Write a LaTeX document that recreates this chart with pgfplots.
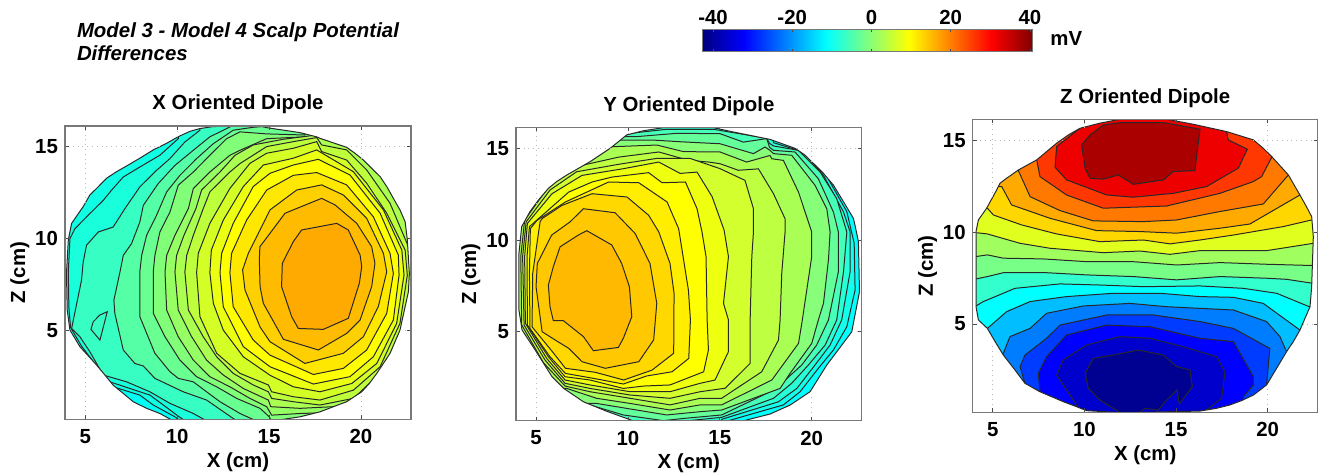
\documentclass[border=0pt]{standalone}
\usepackage{pgfplots}
\usepackage{pgfplotstable}
\usepackage{fontspec}
\setmainfont{Liberation Sans}
\pgfplotsset{compat=1.18}
\definecolor{cline}{RGB}{40,40,40}
\definecolor{frame}{RGB}{120,120,120}
\newcommand{\lab}{\bfseries\fontsize{10.2}{11}\selectfont}
\newcommand{\band}[4]{\addplot[fill={rgb,255:red,#1;green,#2;blue,#3},draw=cline,line width=0.5pt] coordinates {#4} --cycle;}
\pgfplotsset{head/.style={
  scale only axis, anchor=south west, axis on top,
  xtick={5,10,15,20}, ytick={5,10,15},
  /pgf/number format/assume math mode=true,
  tick label style={font=\lab},
  title style={font=\lab, at={(axis description cs:0.5,1.0137)}, anchor=base},
  xlabel={X (cm)}, ylabel={Z (cm)},
  xlabel style={font=\lab, at={(axis description cs:0.5,-0.163)}, anchor=base},
  ylabel style={font=\lab, at={(axis description cs:-0.1156,0.5)}, anchor=base},
  xticklabel style={yshift=-1.5pt},
  axis line style={draw=frame, line width=0.75pt},
  major tick length=2pt, tick style={draw=black!70, line width=0.35pt},
  unbounded coords=jump,
}}
\pgfplotsset{stub/.style={draw=gray!55, dotted, line width=0.4pt}}
\pgfplotstableread[row sep=crcr]{x y\\
2 8.11\\ 2 -3\\ 27 -3\\ 27 20\\ 2 20\\ 2 8.11\\
3.98 8.11\\ 4.08 9.93\\ 4.26 10.83\\ 4.89 11.74\\ 5.25 12.37\\ 5.62 12.73\\ 6.16 13.28\\ 6.71 13.64\\ 7.34 14.0\\ 7.97 14.37\\ 8.7 14.82\\ 9.43 15.18\\ 10.06 15.54\\ 10.7 15.83\\ 11.24 15.98\\ 11.97 16.09\\ 14.5 16.12\\ 14.87 16.03\\ 16.68 15.76\\ 17.59 15.53\\ 17.77 15.45\\ 19.22 14.96\\ 19.67 14.64\\ 20.13 14.27\\ 20.58 13.82\\ 21.04 13.37\\ 21.4 12.83\\ 21.76 12.19\\ 22.12 11.56\\ 22.4 10.92\\ 22.52 9.93\\ 22.63 8.11\\ 22.58 7.12\\ 22.12 5.03\\ 21.85 4.4\\ 21.58 3.77\\ 21.22 3.22\\ 20.86 2.68\\ 20.46 2.14\\ 20.04 1.68\\ 19.22 1.14\\ 18.5 0.87\\ 17.77 0.59\\ 16.68 0.32\\ 15.23 0.1\\ 9.79 0.1\\ 9.06 0.5\\ 8.34 0.78\\ 7.61 1.14\\ 7.07 1.59\\ 6.52 2.04\\ 6.07 2.59\\ 5.62 3.13\\ 5.16 3.64\\ 4.71 4.13\\ 4.44 4.58\\ 4.17 5.03\\ 4.02 6.12\\ 3.98 8.11\\
}\outlineA
\pgfplotstableread[row sep=crcr]{x y\\
2 7.73\\ 2 -3\\ 27 -3\\ 27 20\\ 2 20\\ 2 7.73\\
4.07 7.73\\ 4.07 9.28\\ 4.22 10.74\\ 4.67 11.56\\ 5.13 12.19\\ 5.67 12.83\\ 6.12 13.2\\ 6.67 13.56\\ 7.3 13.92\\ 7.94 14.29\\ 8.48 14.65\\ 9.03 15.02\\ 9.48 15.38\\ 9.93 15.75\\ 10.84 15.98\\ 11.93 16.15\\ 14.65 16.15\\ 15.74 15.91\\ 17.73 15.51\\ 19.09 15.02\\ 19.64 14.65\\ 20.09 14.2\\ 20.64 13.65\\ 21.18 13.01\\ 21.73 12.1\\ 22.27 11.19\\ 22.41 10.56\\ 22.54 9.92\\ 22.6 7.19\\ 22.18 5.0\\ 21.45 4.02\\ 20.82 3.18\\ 19.91 1.72\\ 18.82 0.99\\ 17.73 0.5\\ 16.28 0.13\\ 15.38 0.06\\ 10.48 0.06\\ 8.85 0.65\\ 7.58 1.17\\ 6.51 1.9\\ 5.87 2.54\\ 4.96 3.99\\ 4.24 5.09\\ 4.07 6.18\\ 4.07 7.73\\
}\outlineB
\pgfplotstableread[row sep=crcr]{x y\\
2 7.94\\ 2 -3\\ 27 -3\\ 27 20\\ 2 20\\ 2 7.94\\
4.09 7.94\\ 4.09 10.03\\ 4.22 10.66\\ 4.67 11.3\\ 5.22 12.3\\ 5.4 12.66\\ 5.76 12.93\\ 6.4 13.38\\ 7.4 13.93\\ 7.94 14.38\\ 8.49 14.84\\ 9.13 15.29\\ 9.76 15.65\\ 10.85 15.93\\ 11.94 16.14\\ 14.49 16.14\\ 15.94 15.87\\ 17.76 15.47\\ 19.22 15.02\\ 19.76 14.56\\ 20.22 14.11\\ 21.13 13.11\\ 21.49 12.48\\ 21.76 12.02\\ 22.16 11.3\\ 22.4 10.84\\ 22.49 9.75\\ 22.4 7.03\\ 22.31 5.94\\ 21.76 4.67\\ 21.4 4.04\\ 21.03 3.49\\ 20.49 2.59\\ 19.94 1.68\\ 19.22 1.13\\ 18.58 0.83\\ 17.94 0.59\\ 17.22 0.41\\ 16.31 0.26\\ 12.13 0.17\\ 10.13 0.28\\ 9.49 0.53\\ 8.85 0.77\\ 7.58 1.31\\ 6.76 1.77\\ 6.22 2.49\\ 5.58 3.31\\ 5.13 4.04\\ 4.71 4.76\\ 4.22 5.22\\ 4.09 5.94\\ 4.09 7.94\\
}\outlineC
\begin{document}
\begin{tikzpicture}
\useasboundingbox (0,0) rectangle (660pt,237pt);
% ---------- panel 1
\begin{axis}[head, at={(32.5pt,27.35pt)}, width=173pt, height=146.65pt,
  xmin=3.9, xmax=22.72, ymin=0.185, ymax=16.12, title={X Oriented Dipole}]
\addplot[fill={rgb,255:red,0;green,255;blue,245},draw=none] coordinates {(2,-3)(27,-3)(27,20)(2,20)} --cycle;
\band{15}{255}{228}{(6.25,2.22)(6.52,1.95)(7.97,1.5)(8.7,0.96)(9.88,0.32)(10.24,0.05)(27,-3)(27,20)(2,20)(2,2.22)}
\band{25}{255}{220}{(10.06,20)(10.06,15.43)(9.06,14.53)(7.97,13.89)(7.07,13.35)(6.43,12.63)(5.98,12.08)(5.16,11.27)(4.44,10.54)(4.17,10)(4.08,8.19)(4.11,6.3)(4.2,5.18)(4.8,4.16)(5.71,2.95)(6.34,2.22)(7.43,1.86)(8.52,1.5)(9.25,0.96)(10.15,0.29)(10.51,0.05)(27,-3)(27,20)}
\band{55}{255}{195}{(11.24,20)(11.24,15.89)(10.42,15.25)(9.61,14.35)(8.88,13.71)(7.97,12.81)(7.16,11.63)(6.52,10.63)(5.71,10.36)(5.07,9.64)(4.89,8.73)(4.8,7.75)(4.26,5.12)(4.71,4.67)(5.25,3.86)(5.98,2.59)(7.25,2.22)(8.52,1.68)(9.61,1.05)(10.88,0.5)(11.69,0.05)(27,-3)(27,20)}
\band{55}{255}{195}{(5.8,5.85)(6.2,6.03)(5.8,4.49)(5.31,5.07)(5.44,5.49)}
\band{85}{255}{165}{(13.05,20)(13.05,16.16)(12.69,15.98)(11.78,15.53)(10.88,14.8)(9.88,13.98)(8.97,12.99)(8.16,11.81)(7.97,10.9)(7.52,9.73)(7.07,9.09)(6.89,8.19)(6.56,6.66)(6.61,5.94)(7.07,3.95)(7.7,3.22)(8.16,3.08)(8.79,2.41)(10.33,1.68)(11.6,1.23)(13.05,0.23)(13.33,0.05)(27,-3)(27,20)}
\band{105}{255}{145}{(15.05,20)(15.05,16.12)(14.14,16.05)(13.05,15.89)(11.97,15.16)(11.06,14.35)(10.15,13.44)(9.43,12.54)(8.88,11.27)(8.34,10.18)(8.07,9.09)(7.97,8.19)(7.97,5.76)(8.79,3.77)(9.61,2.77)(10.06,2.41)(10.88,2.22)(11.6,1.68)(12.33,1.14)(13.42,0.5)(14.41,0.05)(27,-3)(27,20)}
\band{130}{255}{120}{(16.95,20)(16.95,15.63)(14.87,15.69)(13.42,15.8)(12.69,15.43)(11.78,14.53)(10.88,13.62)(10.06,12.9)(9.61,11.45)(9.06,10.36)(8.79,9.09)(8.7,8.19)(8.7,5.94)(9.34,4.67)(10.15,3.4)(11.06,2.5)(12.15,1.95)(13.24,1.32)(14.51,0.78)(15.01,0.32)(15.14,0.05)(27,-3)(27,20)}
\band{150}{255}{100}{(17.86,20)(17.86,15.54)(17.14,15.54)(14.87,15.43)(13.42,14.8)(12.87,14.53)(11.78,13.62)(10.88,12.72)(10.61,11.63)(9.88,10.18)(9.43,9.09)(9.34,8.19)(9.43,6.12)(10.06,4.67)(10.88,3.4)(11.78,2.5)(12.87,1.95)(13.96,1.32)(14.87,0.87)(15.14,0.41)(16.68,0.5)(17.95,0.54)(27,-3)(27,20)}
\band{170}{255}{80}{(18.04,20)(18.04,15.63)(17.59,15.63)(15.78,15.4)(14.14,15.09)(13.15,14.53)(12.33,13.62)(11.33,12.64)(11.02,11.63)(10.37,10.18)(9.97,9.09)(9.88,8.19)(10.06,6.12)(10.79,4.67)(11.6,3.4)(12.51,2.59)(13.6,1.86)(14.96,1.23)(15.09,0.87)(16.68,0.78)(18.5,0.87)(19.22,0.96)(27,-3)(27,20)}
\band{190}{255}{60}{(10.42,8.19)(10.52,9.09)(10.88,10.18)(11.42,11.63)(11.78,12.54)(12.87,13.62)(13.42,14.08)(14.87,15)(16.32,15.27)(17.59,15.49)(17.86,15.09)(19.22,14.82)(20.31,13.73)(21.58,11.92)(22.58,9.56)(22.76,8.02)(22.31,5.03)(21.04,2.68)(19.59,1.32)(17.77,0.96)(16.32,1.14)(15.14,1.32)(14.96,1.68)(14.14,2.05)(13.05,2.68)(12.15,3.58)(11.42,4.67)(10.61,6.12)}
\band{212}{255}{38}{(11.06,8.15)(11.15,9.2)(11.78,10.83)(12.87,12.73)(13.96,14.09)(14.87,14.64)(16.32,14.91)(17.59,15.27)(17.86,14.73)(19.22,14.27)(20.31,13.01)(21.4,11.38)(22.4,9.38)(22.52,8.02)(22.12,5.4)(21.04,3.04)(19.59,1.77)(17.77,1.23)(16.32,1.41)(15.14,1.68)(14.96,2.05)(13.42,2.68)(12.15,3.77)(11.24,5.76)}
\band{235}{255}{18}{(11.78,8.15)(11.86,9.38)(12.51,11.01)(13.6,12.83)(14.69,14)(16.32,14.37)(17.59,14.82)(19.58,13.64)(21.22,11.56)(22.22,9.38)(22.34,8.02)(21.94,5.4)(20.86,3.22)(19.5,2.13)(17.77,1.68)(16.32,1.95)(15.05,2.58)(13.6,3.58)(12.51,5.03)(11.97,6.48)}
\band{255}{255}{0}{(12.33,8.15)(12.42,9.2)(13.05,10.83)(14.14,12.83)(15.05,13.55)(16.32,14)(17.68,14.31)(19.4,13.46)(21.04,11.38)(22.03,9.11)(22.07,8.02)(21.76,5.58)(20.67,3.58)(19.4,2.5)(17.41,2.1)(15.05,3.04)(13.6,4.13)(12.51,6.3)}
\band{255}{232}{0}{(12.87,8.15)(12.96,9.2)(13.78,11.01)(14.87,12.64)(16.32,13.44)(17.59,13.59)(19.22,12.92)(20.67,11.19)(21.58,9.2)(21.76,8.11)(21.4,5.94)(20.31,3.95)(19.04,2.95)(17.41,2.62)(15.05,3.67)(14.14,4.49)(13.05,6.3)}
\band{255}{208}{0}{(13.56,8.3)(13.87,9.2)(15.05,11.56)(16.5,12.64)(17.86,12.92)(19.04,12.37)(20.31,11.1)(21.22,9.2)(21.4,8.2)(20.94,6.3)(20.13,4.67)(19.04,3.77)(16.95,3.22)(15.05,4.4)(14.51,5.2)(13.69,7.21)}
\band{255}{187}{0}{(14.47,8.84)(14.5,9.56)(15.87,11.38)(17.86,12.19)(18.59,11.83)(19.77,10.83)(20.58,9.56)(20.76,8.66)(20.58,7.39)(19.95,5.58)(19.22,4.85)(17.68,3.95)(15.78,4.53)(14.69,6.48)(14.51,7.39)}
\band{255}{170}{0}{(16.77,10.47)(18.68,10.83)(19.31,10.47)(19.95,9.11)(20.04,8.48)(19.91,7.57)(19.31,5.67)(17.95,5.07)(16.59,5.12)(16.23,5.76)(15.68,7.39)(15.72,8.66)(16.32,9.84)}
\addplot[fill=white,draw=none] table[x=x,y=y] {\outlineA} --cycle;
\addplot[draw=cline,line width=0.5pt,skip coords between index={0}{6}] table[x=x,y=y] {\outlineA};
\addplot[stub] coordinates {(5,0.1)(5,3.6)(nan,nan)(5,11.7)(5,16.2)(nan,nan)(10,15.55)(10,16.2)(nan,nan)(15,16)(15,16.2)(nan,nan)(20,0.1)(20,1.6)(nan,nan)(20,14.35)(20,16.2)(nan,nan)(3.8,15)(9.1,15)(nan,nan)(19.2,15)(22.8,15)(nan,nan)(3.8,10)(4.15,10)(nan,nan)(3.8,5)(4.17,5)(nan,nan)(22.12,5)(22.8,5)};
\end{axis}
% ---------- panel 2
\begin{axis}[head, at={(258pt,26.65pt)}, width=172.85pt, height=146.7pt,
  xmin=3.91, xmax=22.72, ymin=0.137, ymax=16.17, title={Y Oriented Dipole}]
\addplot[fill={rgb,255:red,0;green,255;blue,255},draw=none] coordinates {(2,-3)(27,-3)(27,20)(2,20)} --cycle;
\band{20}{255}{235}{(18.01,15.47)(19.73,14.75)(20.73,13.65)(21.91,11.56)(22.31,9.83)(22.36,7.28)(21.91,5.27)(21.18,4.0)(20.36,3.0)(19.37,1.72)(18.46,1.0)(15.1,0.03)(15.1,-2)(2,-2)(2,20)(18.01,20)}
\band{40}{255}{215}{(17.92,15.33)(19.55,14.82)(20.64,13.54)(21.73,11.54)(22.09,10.45)(22.09,8.28)(21.63,5.64)(21,4.27)(20.18,3.18)(19.19,1.9)(18.19,1.17)(15.1,0.21)(15.1,-2)(2,-2)(2,20)(17.92,20)}
\band{70}{255}{185}{(10.12,15.84)(12.11,16.06)(14.65,16.06)(17.55,15.57)(17.7,15.29)(17.92,15.15)(19.28,14.91)(20.46,13.72)(21.36,12.27)(21.91,10.45)(21.73,8.28)(21.36,5.64)(20.73,4.27)(19.82,3.18)(18.91,2.18)(17.92,1.36)(15.1,0.32)(11.93,0)(11.93,-2)(2,-2)(2,20)(10.12,20)}
\band{100}{255}{155}{(10.48,15.66)(12.66,15.84)(15.01,15.82)(16.28,15.36)(17.55,15.55)(17.7,15.09)(17.92,14.91)(19.09,14.82)(20.36,13.36)(21.18,11.54)(21.45,10.45)(21.45,8.28)(20.91,5.64)(20.27,4.27)(19.46,3.18)(18.46,2.27)(17.55,1.63)(15.1,0.45)(13.02,0.26)(11.93,0.14)(9.75,0.45)(8.12,0.94)(2,0.94)(2,15.66)}
\band{135}{255}{120}{(11.39,15.47)(12.84,15.38)(15.01,15.27)(16.83,14.73)(17.46,15.09)(17.73,14.91)(17.92,14.73)(18.91,14.64)(20.18,13)(20.82,11.72)(21,10.45)(20.91,8.92)(20.64,6.55)(20.36,5.64)(20,4.36)(18.82,2.72)(18.28,1.9)(15.1,0.72)(13.93,0.63)(12.11,0.45)(9.93,0.81)(8.3,1.08)(2,1.08)(2,15.47)}
\band{170}{255}{85}{(9.21,15.11)(11.57,15.2)(13.02,14.84)(15.01,14.82)(16.46,14.27)(17.73,14.63)(17.83,14.45)(18.46,14.36)(19.28,12.63)(20,10.45)(20,9.1)(19.46,5.45)(19.28,4.36)(17.83,2.36)(15.1,1)(13.93,1)(12.29,0.72)(10.12,1.08)(8.3,1.36)(6.67,1.9)(2,1.9)(2,15.11)}
\band{190}{255}{65}{(4.17,9.1)(4.38,11.1)(5.87,13.18)(7.5,14.09)(9.5,14.54)(11.68,14.82)(13.31,14.36)(14.4,14.27)(15.01,14.18)(16.01,13.82)(17.1,13.9)(17.92,12.54)(18.55,11.17)(18.55,10.45)(18.37,8.19)(18.28,5.64)(18.19,4.54)(17.28,2.81)(15.1,1.36)(13.93,1.36)(12.29,1)(10.12,1.36)(7.94,1.72)(6.58,2.03)(5.4,3.31)(4.22,5.37)}
\band{210}{255}{45}{(4.27,9.1)(4.46,11)(5.76,12.74)(7.21,13.74)(9.57,14.16)(11.57,14.47)(13.38,14.47)(15.01,13.91)(16.37,13.27)(16.83,11.72)(16.83,10.45)(16.74,9.1)(16.65,5.64)(16.65,3.27)(15.29,1.91)(13.93,1.72)(12.29,1.36)(10.12,1.54)(7.94,1.9)(6.58,2.18)(5.49,3.45)(4.35,5.36)}
\band{238}{255}{16}{(4.38,9.1)(4.53,10.92)(5.87,12.54)(7.5,13.54)(9.77,13.91)(11.68,14.27)(12.84,13.65)(13.76,13.72)(14.58,12.38)(15.23,10.56)(15.47,9.1)(15.2,6.55)(15.47,5.64)(15.47,3.91)(14.74,2.36)(13.93,2.18)(12.29,1.72)(10.12,1.72)(7.94,2.09)(6.58,2.36)(5.58,3.54)(4.42,5.46)}
\band{255}{255}{0}{(4.51,9.1)(4.64,10.74)(6.78,12.63)(8.05,13.18)(9.14,13.45)(11.13,13.69)(11.86,13.14)(13.13,13.18)(13.76,11.72)(14.03,10.45)(14.25,9.1)(14.31,5.64)(14.38,4)(14.12,2.81)(12.29,2.09)(10.84,2.03)(9.75,1.9)(7.94,2.36)(6.58,2.54)(5.67,3.63)(4.53,5.36)}
\band{255}{238}{0}{(4.64,8.19)(4.69,10.63)(5.05,11.08)(6.6,12.09)(8.95,13.18)(10.59,13.14)(12.13,12.09)(12.76,10.63)(13.29,7.28)(13.4,5.64)(13.31,3.54)(12.4,2.81)(11.02,2.58)(9.75,2.14)(8.12,2.45)(6.6,2.72)(5.76,3.63)(4.67,5.18)}
\band{255}{216}{0}{(4.82,8.19)(5.22,11.01)(5.33,11.18)(6.41,11.9)(8.05,12.54)(9.95,12.36)(11.13,11.36)(11.68,10.45)(12.29,8.73)(12.51,7.1)(12.49,3.82)(11.31,2.9)(9.77,2.36)(8.23,2.78)(6.6,3)(5.96,3.82)(4.78,5.27)}
\band{255}{200}{0}{(7.58,11.72)(9.3,11.5)(10.39,10.37)(11.2,8.73)(11.57,6.55)(11.4,4.55)(10.59,3.36)(8.77,3)(7.5,3.36)(6.78,4.09)(6.05,4.54)(5.33,5)(5,7.46)(5.07,8.73)(5.85,10.28)(6.85,11)}
\band{255}{185}{0}{(7.76,10.52)(9.12,9.74)(9.66,8.73)(10.08,7.46)(10.21,5.82)(9.75,4.64)(9.48,4.14)(8.12,3.96)(7.58,4.73)(6.49,5.6)(5.94,5.6)(5.76,6.37)(5.67,7.55)(5.94,8.55)(6.31,9.64)(7.3,10.28)}
\addplot[fill=white,draw=none] table[x=x,y=y] {\outlineB} --cycle;
\addplot[draw=cline,line width=0.5pt,skip coords between index={0}{6}] table[x=x,y=y] {\outlineB};
\addplot[stub] coordinates {(5,0.05)(5,3.75)(nan,nan)(5,12)(5,16.3)(nan,nan)(10,15.8)(10,16.3)(nan,nan)(15,15.9)(15,16.3)(nan,nan)(20,0.05)(20,1.6)(nan,nan)(20,14.3)(20,16.3)(nan,nan)(3.8,15)(9.03,15)(nan,nan)(19.2,15)(22.8,15)(nan,nan)(3.8,10)(4.13,10)(nan,nan)(3.8,5)(4.2,5)(nan,nan)(22.18,5)(22.8,5)};
\end{axis}
% ---------- panel 3
\begin{axis}[head, at={(486.35pt,30.85pt)}, width=172.5pt, height=146.5pt,
  xmin=3.91, xmax=22.73, ymin=0.193, ymax=16.14, title={Z Oriented Dipole}]
\addplot[fill={rgb,255:red,120;green,255;blue,135},draw=none] coordinates {(2,-3)(27,-3)(27,20)(2,20)} --cycle;
\band{160}{255}{95}{(2,8.67)(4.09,8.67)(4.71,8.76)(5.58,8.58)(7.76,8.54)(10.13,8.39)(12.67,8.39)(15.04,8.21)(17.4,8.34)(19.94,8.25)(22.49,8.18)(27,8.18)(27,20)(2,20)}
\band{225}{255}{30}{(2,9.97)(4.09,9.97)(4.71,9.9)(6.49,9.39)(8.13,9.12)(11.03,8.88)(13.03,8.97)(14.67,8.79)(16.3,8.99)(19.94,8.99)(22.49,9.39)(27,9.39)(27,20)(2,20)}
\band{255}{215}{0}{(2,11.3)(4.71,11.3)(5.04,10.93)(6.58,10.39)(8.49,9.9)(10.85,9.48)(13.22,9.57)(14.67,9.36)(16.31,9.57)(18.13,9.84)(20.85,10.3)(22.4,10.66)(27,10.66)(27,20)(2,20)}
\band{255}{170}{0}{(2,12.48)(5.49,12.48)(6.03,11.48)(8.13,10.75)(10.67,10.08)(13.03,10.03)(15.03,9.94)(17.4,10.21)(19.03,10.44)(21.76,12.02)(27,12.02)(27,20)(2,20)}
\band{255}{120}{0}{(2,13.35)(6.4,13.35)(7.04,11.93)(8.67,11.17)(10.49,10.61)(13.22,10.57)(15.03,10.66)(17.4,11.12)(19.76,11.53)(21.13,13.11)(27,13.11)(27,20)(2,20)}
\band{255}{55}{0}{(2,13.93)(7.4,13.93)(7.58,13.02)(9.03,12.02)(11.03,11.3)(14.49,11.42)(17.4,12.11)(19.22,12.75)(19.67,13.02)(20.22,14.07)(27,14.07)(27,20)(2,20)}
\band{238}{0}{0}{(9.76,15.65)(8.49,14.66)(8.4,13.53)(9.03,12.84)(11.22,12.02)(12.67,11.9)(14.85,12.11)(16.67,12.48)(18.4,13.48)(18.89,14.51)(17.85,15.02)(17.76,15.47)(17.76,20)(9.76,20)}
\band{170}{0}{0}{(9.85,14.75)(10.31,15.29)(11.03,15.83)(11.94,15.96)(14.31,15.96)(16.31,15.6)(16.03,13.35)(14.85,13.3)(14.31,12.84)(12.67,12.6)(11.85,13.11)(11.03,12.88)(10.31,12.93)(10.04,13.47)}
\band{50}{255}{205}{(2,7.45)(4.09,7.45)(4.71,7.58)(5.58,7.79)(7.94,7.79)(10.13,7.67)(12.67,7.58)(15.03,7.4)(17.4,7.58)(19.94,7.49)(21.03,7.43)(22.49,7.21)(27,7.21)(27,-3)(2,-3)}
\band{0}{255}{255}{(2,5.98)(4.09,5.98)(4.49,6.22)(6.22,6.94)(8.67,7.18)(10.85,7.12)(13.22,7.03)(16.31,7.07)(18.67,6.94)(20.49,6.67)(22.27,5.94)(27,5.94)(27,-3)(2,-3)}
\band{0}{190}{255}{(2,4.76)(4.71,4.76)(5.76,5.67)(7.04,6.22)(9.03,6.49)(11.58,6.67)(14.13,6.67)(16.31,6.49)(18.13,6.45)(19.76,6.12)(21.76,4.67)(27,4.67)(27,-3)(2,-3)}
\band{0}{125}{255}{(2,3.4)(5.58,3.4)(5.94,4.31)(7.04,4.76)(7.94,5.58)(9.94,5.98)(12.49,6.12)(14.49,5.94)(18.13,5.76)(19.94,5.13)(20.67,4.31)(21.03,3.49)(27,3.49)(27,-3)(2,-3)}
\band{0}{60}{255}{(6.76,-3)(6.76,1.77)(6.49,2.68)(6.76,3.31)(7.94,4.22)(8.67,4.94)(11.22,5.49)(13.76,5.49)(16.31,5.13)(18.13,4.76)(20.12,3.67)(19.94,1.68)(19.94,-3)}
\band{0}{0}{255}{(7.58,-3)(7.58,1.31)(7.49,2.31)(7.94,3.22)(9.03,4.4)(11.22,4.94)(13.58,4.85)(16.31,4.22)(18.13,4.04)(19.22,2.13)(19.22,1.68)(18.67,1.04)(18.67,-3)}
\band{0}{0}{205}{(9.58,-3)(9.58,0.59)(8.49,2.22)(8.85,3.04)(10.13,3.86)(11.94,4.31)(13.58,4.22)(15.4,3.76)(17.22,3.22)(17.67,2.4)(17.49,0.95)(16.67,0.32)(16.67,-3)}
\band{0}{0}{145}{(10.04,2.31)(10.49,3.13)(11.58,3.31)(12.94,3.58)(14.31,3.31)(15.03,2.68)(15.76,2.5)(15.89,1.59)(15.18,0.64)(15.07,1.41)(14.49,0.86)(14.03,0.31)(13.31,0.41)(13.04,0.19)(11.94,0.19)(10.85,0.86)(10.22,1.5)}
\addplot[fill=white,draw=none] table[x=x,y=y] {\outlineC} --cycle;
\addplot[draw=cline,line width=0.5pt,skip coords between index={0}{6}] table[x=x,y=y] {\outlineC};
\addplot[stub] coordinates {(5,0.1)(5,3.9)(nan,nan)(5,11.9)(5,16.3)(nan,nan)(10,15.65)(10,16.3)(nan,nan)(15,16)(15,16.3)(nan,nan)(20,0.1)(20,1.6)(nan,nan)(20,14.2)(20,16.3)(nan,nan)(3.8,15)(8.8,15)(nan,nan)(19.2,15)(22.8,15)(nan,nan)(3.8,10)(4.09,10)(nan,nan)(3.8,5)(4.3,5)(nan,nan)(21.9,5)(22.8,5)};
\end{axis}
% ---------- colour bar
\begin{axis}[scale only axis, anchor=south west, at={(351.35pt,211.15pt)}, width=165pt, height=11.2pt,
  hide axis, xmin=0, xmax=1, ymin=0, ymax=1, colormap/jet,
  point meta min=-42.6, point meta max=40.7,
  colorbar horizontal,
  colorbar style={at={(0,0)}, anchor=south west, width=165pt, height=11.2pt,
    xtick={-40,-20,0,20,40}, xticklabel pos=upper,
    /pgf/number format/assume math mode=true,
    tick label style={font=\lab}, xticklabel style={yshift=-1pt},
    axis line style={draw=frame, line width=0.6pt},
    major tick length=1.5pt, tick style={draw=black!70, line width=0.35pt}, xtick pos=both, xticklabel shift=0pt}]
\addplot[draw=none] coordinates {(0,0)(1,1)};
\end{axis}
\node[anchor=base west,font=\lab,inner sep=0pt] at (525pt,214pt) {mV};
\node[anchor=base west,inner sep=0pt,font=\bfseries\itshape\fontsize{10.2}{11}\selectfont] at (38.3pt,218pt) {Model 3 - Model 4 Scalp Potential};
\node[anchor=base west,inner sep=0pt,font=\bfseries\itshape\fontsize{10.2}{11}\selectfont] at (38.3pt,206.75pt) {Differences};
\end{tikzpicture}
\end{document}
